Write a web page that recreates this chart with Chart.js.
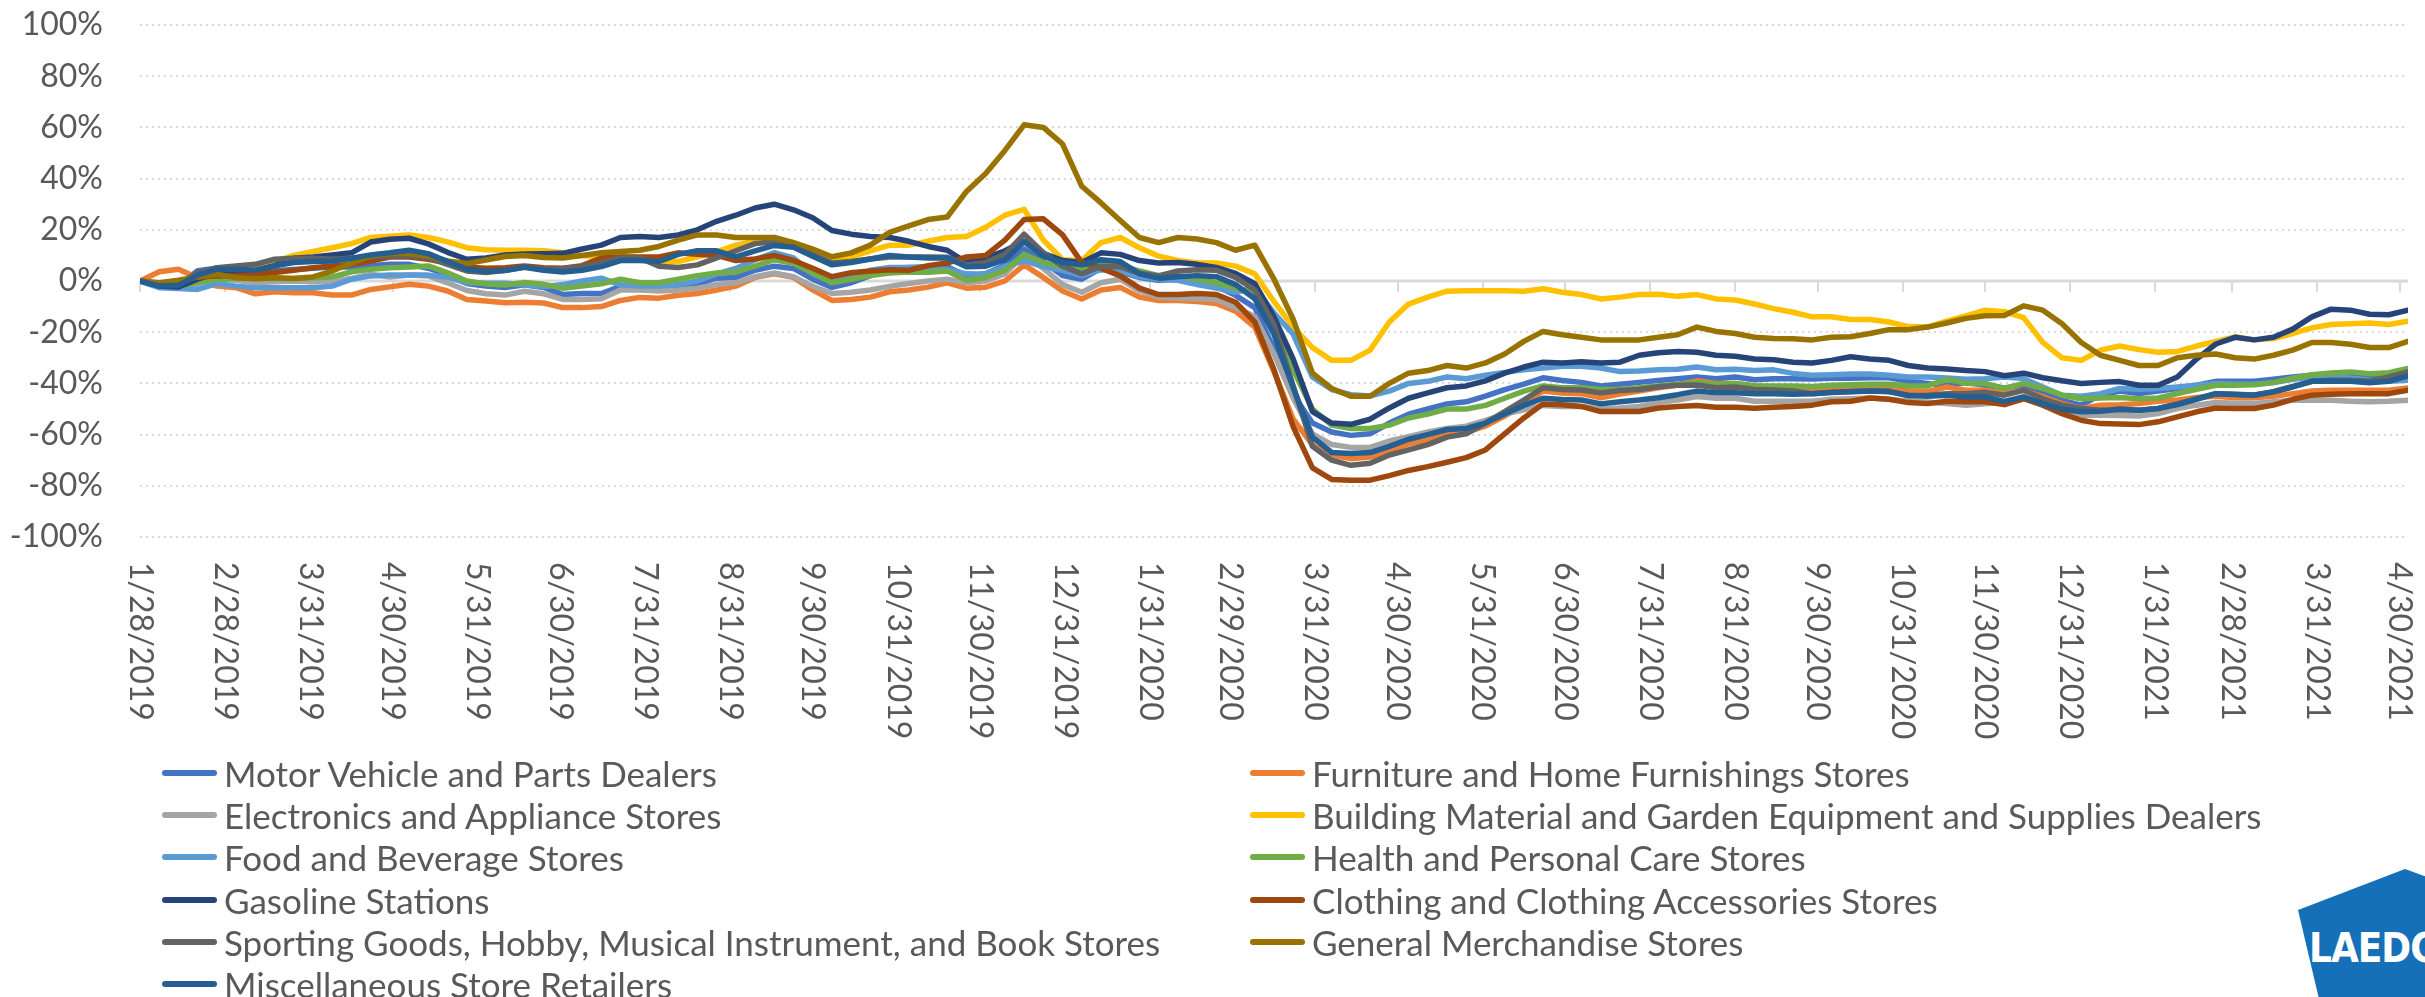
<!DOCTYPE html>
<html>
<head>
<meta charset="utf-8">
<script src="https://cdn.jsdelivr.net/npm/chart.js@4.4.1/dist/chart.umd.min.js"></script>
<style>
html, body { margin: 0; padding: 0; background: #fff; overflow: hidden; }
#wrap { position: relative; width: 2425px; height: 997px; overflow: hidden; }
#chart { position: absolute; left: 0; top: 0; }
.item { position: absolute; height: 42px; display: flex; align-items: center; font: 35px Lato, sans-serif; color: #595959; white-space: nowrap; }
.swatch { width: 55px; height: 6px; border-radius: 3px; margin-right: 7px; }
#logo { position: absolute; left: 2298px; top: 869px; width: 140px; height: 130px; background: #1570B8;
        clip-path: polygon(0px 41px, 107px 0px, 140px 12px, 140px 130px, 21px 130px); }
#logo span { position: absolute; left: 11px; top: 56px; font: bold 40px "Liberation Sans Narrow", "DejaVu Sans Condensed", sans-serif; color: #fff; letter-spacing: -1px; }
</style>
</head>
<body>
<div id="wrap">
  <canvas id="chart" width="2425" height="997"></canvas>
  <div id="legend"></div>
  <div id="logo"><span>LAEDC</span></div>
</div>
<script>
// weekly % change vs baseline, one value per week starting 1/28/2019
var startDate = '1/28/2019';

var motorVehicle = [0,-2,-2,4,5,4,3,4,4.5,5, 5.5,5.5,6,6.5,6.5,5,2.5,-1,-2,-2.5,
  -1.5,-2.5,-5.3,-4.9,-4.9,-2.1,-2.5,-2.8,-2.1,-1.1, 1.1,1.4,4.2,5.8,4.9,0.7,-2.5,-0.7,2.1,4.9,
  5.3,5.6,5.6,2.1,2.8,6.3,12.5,7.6,2.1,0.7, 4.9,3.5,1.4,0.3,0.7,0.5,-2.1,-5.6,-10.4,-26.4,
  -44.4,-55.5,-59,-60.3,-59.7,-55.5,-52,-50,-48,-47.2, -45,-42.4,-40.3,-37.8,-38.9,-39.6,-41,-40.3,-39.6,-38.9,
  -38.2,-37.5,-38.2,-37.5,-38.6,-38.2,-38.2,-38.3,-38,-38, -37.8,-37.8,-39.2,-40,-40.7,-39.7,-40.7,-41.8,-40.7,-43.3,
  -46.6,-48.5,-44.6,-43,-44,-43,-42,-40.7,-39.2,-39.2, -39.2,-38.4,-37.5,-36.8,-37,-36.8,-37.5,-37.5,-36.2];

var furniture = [0,3.6,4.6,1.3,-2,-2.6,-5,-4.2,-4.6,-4.6, -5.5,-5.5,-3.3,-2.3,-1.3,-2,-3.9,-7.2,-7.8,-8.5,
  -8.3,-8.6,-10.4,-10.4,-10,-7.6,-6.4,-6.7,-5.6,-4.9, -3.5,-2,1.4,2.8,1.4,-3.5,-7.6,-7.2,-6.3,-4.2,
  -3.5,-2.4,-0.7,-2.8,-2.4,0,6.3,1.4,-3.9,-7, -3.5,-2.5,-6.3,-7.6,-7.6,-8,-8.8,-11.8,-18,-35.4,
  -54,-64,-68,-69.4,-68.8,-66.4,-63.6,-62.2,-60,-59, -56.7,-52.8,-48,-43,-43.8,-44,-45.6,-44.2,-43,-41.7,
  -40.6,-39,-40,-40,-41,-41.3,-41.3,-42.7,-42.3,-42, -42,-42,-43,-43.2,-41.4,-42.7,-42.7,-44,-42.7,-45.3,
  -47.9,-49.8,-48.5,-48.3,-47.9,-47,-46.5,-45.5,-45,-45.6, -45.6,-45,-44,-43,-42.7,-42.7,-42.7,-42.7,-41.8];

var electronics = [0,-2,-2.3,-1.3,1,0.3,-0.7,-0.3,0,-0.3, 0,1,2.6,1.6,2.3,2,-0.7,-3.7,-5,-5.5,
  -4,-5,-7.2,-7.2,-6.9,-3.5,-3.5,-3.9,-3.5,-2.8, -1.4,-0.7,1.7,3.1,1.7,-2.1,-4.9,-4.4,-3.5,-2.1,
  -1,0,0.7,-0.7,0,2.8,10.4,4.9,-1.4,-4.4, -0.7,0.7,-3.9,-6.3,-6.7,-6.9,-7.2,-10.4,-13.9,-28.5,
  -45.8,-59.7,-63.9,-65,-65,-62.5,-60.8,-59,-57.6,-56.7, -54.4,-52,-50.3,-48.6,-49,-49,-50,-49.6,-49,-47.5,
  -46.5,-45.1,-45.8,-45.8,-47,-47,-47,-47,-46.2,-46, -45.7,-46.2,-47,-47.3,-47.9,-48.5,-48,-47.2,-45.3,-48.5,
  -51.1,-52.4,-52.4,-52.5,-52.7,-51.8,-49.8,-48.5,-47.5,-47.8, -47.8,-47.2,-46.6,-46.6,-46.6,-47,-47.2,-47,-46.6];

var buildingMaterial = [0,-2,-1,1,3,4,5.5,7.5,10,11.5, 13,14.6,17,17.5,18,17,15.3,13,12.2,12,
  12,11.8,11,10,9.4,10,9,7.6,7.6,9.4, 11.4,14,15.5,16,15,11,8.3,9.4,11.8,14,
  14,15.5,17,17.4,21,25.7,28,16,8.3,8, 15,17,13,9.7,8,7,7,5.8,2.8,-8,
  -18,-26,-31,-31,-27,-16,-9,-6.3,-4,-3.8, -3.8,-3.8,-4,-3,-4.4,-5.3,-7,-6.3,-5.3,-5.2,
  -6,-5.3,-7,-7.4,-9,-10.8,-12.2,-14,-14,-15, -15,-16,-17.8,-18,-15.7,-13.6,-11.4,-12,-14.3,-24,
  -30,-31,-27,-25.4,-26.8,-27.8,-27.5,-25.4,-23.6,-21.8, -23,-22.5,-20.5,-18.3,-17,-16.7,-16.4,-17,-15.7];

var foodBeverage = [0,-2.6,-2.9,-3.3,-1,-2,-2.6,-2.6,-2.6,-2.6, -2,0.7,2,2.3,2.3,2.3,1.5,-0.7,-0.9,-0.9,
  -1.5,-2.3,-1.4,0,1.1,-1.5,-2,-2,-1.4,0, 2.8,4.9,8.3,11.1,9,2.8,0.3,1.4,4.2,5.3,
  5.3,4.9,4.5,2.8,2.6,5.6,8,5.6,4.2,2.1, 4.4,3.9,1.7,0.7,0.3,-1.4,-2.8,-4.4,-2.8,-12.5,
  -20.8,-37.5,-42.4,-44.4,-44.9,-43,-40,-39.2,-37.5,-38.2, -36.8,-35.7,-34.7,-34,-33.3,-33.3,-34,-35.4,-35.2,-34.7,
  -34.5,-33.6,-34.7,-34.5,-35,-34.7,-36.1,-36.8,-36.6,-36.3, -36.3,-36.8,-37.5,-37.5,-37.9,-38.4,-38.2,-37.5,-38.1,-41.4,
  -44.6,-45,-44,-42,-42.3,-42,-41.4,-40.7,-40,-40.3, -40.3,-39.7,-38.4,-37.5,-37.5,-37.9,-38.8,-39.2,-38.8];

var healthCare = [0,-1.3,-2,-0.5,0.7,1,1,1,1,1.3, 1.6,3.6,4.6,5.2,5.5,5.9,3.2,0,-1.2,-1.6,
  -0.6,-1.3,-2.8,-2,-1.1,0.7,-0.7,-0.7,0.7,2.1, 3.1,3.5,5.8,8.3,6.9,3.1,-0.7,0.7,2.1,3.1,
  3.5,3.4,3.9,0.3,1.4,4.2,10.4,7.2,5.6,4.4, 7.2,6.3,3.9,2.1,2.1,0.7,-0.7,-2.8,-4.4,-18,
  -34.7,-50,-56.3,-57.6,-57.6,-56.3,-53.5,-52,-50,-50, -48.6,-45.8,-43,-41,-41.7,-41.7,-42.4,-42.4,-41.7,-41,
  -40.3,-39.6,-40.3,-40,-41,-41,-41,-41.2,-40.7,-40.5, -40.3,-40.3,-41,-41,-38.4,-40,-40,-42,-40,-42,
  -44.6,-46,-45.7,-45.5,-46,-45.7,-44,-42.3,-40.7,-40.7, -40.5,-39.7,-38,-36.6,-35.9,-35.5,-36.2,-35.8,-34.2];

var gasoline = [0,-2,-2.3,0.7,3.3,3.9,4,6,8.9,9.4, 10.2,11,15.2,16.3,16.7,14.5,11.2,8.5,9,10.2,
  10.5,10.6,10.8,12.5,14,17,17.4,17,18,20, 23.3,25.7,28.5,30,27.8,24.7,19.7,18.3,17.4,17,
  15.5,13.5,12,7.2,9,11.8,15.5,10.8,8,7.2, 11,10.4,8,7,7.2,6.5,5.3,3,-1,-14,
  -30.5,-51,-55.5,-56,-54,-49.6,-45.8,-43.7,-41.7,-41, -39,-36,-33.6,-31.7,-32,-31.5,-32,-31.7,-29,-28,
  -27.5,-27.8,-29,-29.4,-30.5,-30.8,-31.7,-32,-31,-29.6, -30.5,-31,-33,-34,-34.4,-35,-35.4,-37,-36,-37.8,
  -39,-40,-39.6,-39.3,-40.7,-40.7,-37.5,-30.5,-24.6,-22, -23,-22,-18.8,-14,-11,-11.4,-13,-13.2,-11.4];

var clothing = [0,-1,0,1.5,2,2,2.6,3.3,4.2,5.2, 5.9,6.5,7.8,9.4,9.4,8.5,7,5.5,5,5.2,
  5.9,5.2,5,6,9,9.4,9.4,9.4,11,10.4, 10,8,8.6,10,8,5,1.7,3.2,3.9,4.4,
  4.2,6,7,9.4,10,16,24,24.3,18,7.2, 5,2,-2.8,-5.3,-5.3,-4.9,-5.3,-8.3,-16,-34.7,
  -57,-73,-77.5,-77.8,-77.8,-76,-74,-72.5,-70.8,-69, -66,-59.7,-53.5,-48,-48.3,-49,-51,-51,-51,-49.6,
  -49,-48.6,-49.3,-49.3,-49.7,-49.3,-49,-48.5,-47.2,-47, -45.7,-46.2,-47.5,-47.9,-47,-47.2,-47.2,-48.3,-46,-48.5,
  -51.8,-54.4,-55.7,-55.9,-56.1,-55,-53.1,-51.1,-49.6,-49.8, -49.8,-48.5,-46.2,-44.6,-44.2,-44,-44,-44,-42.7];

var sportingGoods = [0,-1.3,-1.3,3.3,5.2,5.9,6.5,8.5,8.9,8.9, 8.5,8.9,9.4,9.8,9.8,9.1,6.5,3.9,3.3,4.2,
  5.5,4.6,4.9,5.6,7.2,9,9,5.8,5.3,6.3, 9,11.8,14.6,15.3,13.9,10.4,7,7.6,8.6,9.4,
  9.4,9.4,9.3,6.3,7.2,10.4,18.3,11,5.8,2.8, 5.8,5.6,3,2,3.9,4.4,4.2,1.4,-3.5,-17,
  -41,-64.6,-70,-72,-71.2,-68,-66,-63.9,-61,-59.7, -55.5,-51,-46.5,-41.7,-42.4,-42.6,-43.7,-42.8,-42.4,-41.3,
  -40.7,-40.6,-41.7,-41.4,-42.4,-42.6,-43,-44,-43.5,-43.2, -43,-43,-44.9,-44.6,-44,-44,-43.5,-44.6,-42.7,-46,
  -48.5,-49.8,-50.5,-50.3,-50.5,-49.8,-48,-46,-44,-44.2, -44.5,-43.2,-41.2,-39.2,-38.8,-38.8,-39.2,-37.5,-35.5];

var generalMerch = [0,-0.7,0.3,1.6,2.6,1.3,0.9,1.3,1,1.6, 3.9,7,9.8,10.7,10.7,9.8,7.8,6.8,8.2,9.6,
  10,9.2,9,10,11,11.5,12,13.5,16,18, 18,17,17,17,15,12.5,9.5,11,14,19,
  21.5,24,25,35,42,51,61,60,53.5,37, 30.5,23.6,17,15,17,16.4,15,12,14,0.7,
  -15,-36,-42,-45,-45,-40,-36,-35,-33,-34, -32,-28.5,-23.6,-19.7,-21,-22,-23,-23,-23,-22,
  -21,-18,-19.7,-20.5,-22,-22.5,-22.6,-23,-22,-21.8, -20.5,-19,-19,-18,-16.4,-14.6,-13.6,-13.5,-9.7,-11.4,
  -16.7,-24,-29,-31,-33,-33,-30,-29,-28.5,-30, -30.5,-29,-27,-24,-24,-24.7,-26,-26,-23.6];

var miscRetail = [0,-2,-1.7,2.3,4.6,4.6,4.2,5.9,7.2,7.6, 7.8,8.9,10.2,11,12,10.7,7.6,4.7,3.7,4.1,
  5.4,4.2,3.5,4.2,5.6,8,8,7.6,10.4,11.8, 11.8,9.4,11.8,13.9,13.2,9.7,6.3,7.2,8.6,10,
  9.4,9,9,5.6,5.8,8.3,15.3,9.7,7.2,6.3, 8.3,7.6,2.8,1.1,1.7,2.1,1.7,-1.4,-6.9,-20.8,
  -41.7,-61,-67,-67.4,-67,-64.6,-61.8,-60,-58,-57.6, -55.5,-52,-48.6,-45.8,-46.3,-46.5,-48,-47.2,-46.5,-45.6,
  -44.4,-43,-43.7,-43.7,-44,-44,-44.2,-44,-43.6,-43.3, -43,-43.3,-44.6,-45,-44.6,-45.3,-45.3,-47,-45.3,-47.9,
  -50.1,-51.1,-50.9,-50,-50.5,-49.8,-48.3,-46.2,-44,-44.3, -44.6,-43.3,-41.4,-39.2,-39.1,-39.2,-39.7,-39.2,-37.1];

var seriesNames = [
  'Motor Vehicle and Parts Dealers',
  'Furniture and Home Furnishings Stores',
  'Electronics and Appliance Stores',
  'Building Material and Garden Equipment and Supplies Dealers',
  'Food and Beverage Stores',
  'Health and Personal Care Stores',
  'Gasoline Stations',
  'Clothing and Clothing Accessories Stores',
  'Sporting Goods, Hobby, Musical Instrument, and Book Stores',
  'General Merchandise Stores',
  'Miscellaneous Store Retailers'
];
var seriesValues = [motorVehicle, furniture, electronics, buildingMaterial, foodBeverage, healthCare,
  gasoline, clothing, sportingGoods, generalMerch, miscRetail];
var colors = ['#4472C4','#ED7D31','#A5A5A5','#FFC000','#5B9BD5','#70AD47',
  '#264478','#9E480E','#636363','#997300','#255E91'];

var tickLabels = ['1/28/2019','2/28/2019','3/31/2019','4/30/2019','5/31/2019','6/30/2019','7/31/2019',
  '8/31/2019','9/30/2019','10/31/2019','11/30/2019','12/31/2019','1/31/2020','2/29/2020','3/31/2020',
  '4/30/2020','5/31/2020','6/30/2020','7/31/2020','8/31/2020','9/30/2020','10/31/2020','11/30/2020',
  '12/31/2020','1/31/2021','2/28/2021','3/31/2021','4/30/2021'];

function dayNumber(s) {
  var p = s.split('/');
  return Date.UTC(+p[2], +p[0] - 1, +p[1]) / 86400000;
}
var day0 = dayNumber(startDate);
var tickDays = tickLabels.map(function (s) { return dayNumber(s) - day0; });
var lastDay = (motorVehicle.length - 1) * 7;

var textColor = '#595959';
var fontName = 'Lato';

var datasets = seriesValues.map(function (vals, i) {
  return {
    label: seriesNames[i],
    data: vals.map(function (v, w) { return { x: w * 7, y: v }; }),
    borderColor: colors[i],
    backgroundColor: colors[i],
    borderWidth: 5.5,
    pointRadius: 0,
    tension: 0,
    fill: false,
    borderJoinStyle: 'round',
    borderCapStyle: 'round',
    order: seriesValues.length - 1 - i
  };
});

// zero line with month tick marks (axis crosses at 0)
var zeroAxis = {
  id: 'zeroAxis',
  beforeDatasetsDraw: function (chart) {
    var ctx = chart.ctx, xs = chart.scales.x, ys = chart.scales.y, a = chart.chartArea;
    var y0 = Math.round(ys.getPixelForValue(0));
    ctx.save();
    ctx.strokeStyle = '#D9D9D9';
    ctx.lineWidth = 3;
    ctx.beginPath();
    ctx.moveTo(a.left, y0);
    ctx.lineTo(a.right, y0);
    ctx.stroke();
    ctx.lineWidth = 2;
    tickDays.forEach(function (d) {
      var x = Math.round(xs.getPixelForValue(d));
      ctx.beginPath();
      ctx.moveTo(x, y0);
      ctx.lineTo(x, y0 + 11);
      ctx.stroke();
    });
    ctx.restore();
  }
};

// date labels, rotated clockwise, hanging below the plot
var dateLabels = {
  id: 'dateLabels',
  afterDraw: function (chart) {
    var ctx = chart.ctx, xs = chart.scales.x, a = chart.chartArea;
    ctx.save();
    ctx.fillStyle = textColor;
    ctx.font = '32px ' + fontName;
    ctx.textAlign = 'left';
    ctx.textBaseline = 'middle';
    tickLabels.forEach(function (lab, i) {
      ctx.save();
      ctx.translate(xs.getPixelForValue(tickDays[i]), a.bottom + 25);
      ctx.rotate(Math.PI / 2);
      ctx.fillText(lab, 0, 0);
      ctx.restore();
    });
    ctx.restore();
  }
};

var chart = new Chart(document.getElementById('chart').getContext('2d'), {
  type: 'line',
  data: { datasets: datasets },
  options: {
    responsive: false,
    animation: false,
    devicePixelRatio: 1,
    layout: { padding: { left: 10, right: 17, top: 25, bottom: 460 } },
    plugins: { legend: { display: false }, tooltip: { enabled: false } },
    scales: {
      x: { type: 'linear', display: false, min: 0, max: lastDay },
      y: {
        min: -100, max: 100,
        ticks: { stepSize: 20, color: textColor, padding: 37, font: { family: fontName, size: 32 },
                 callback: function (v) { return v + '%'; } },
        grid: { drawTicks: false, lineWidth: 2,
                color: function (c) { return c.tick && c.tick.value === 0 ? 'rgba(0,0,0,0)' : '#D9D9D9'; } },
        border: { display: false, dash: [2, 4] },
        afterFit: function (s) { s.width = 130; s.paddingTop = 0; s.paddingBottom = 0; }
      }
    }
  },
  plugins: [zeroAxis, dateLabels]
});

// two-column legend under the chart
var legend = document.getElementById('legend');
seriesNames.forEach(function (name, i) {
  var row = Math.floor(i / 2), col = i % 2;
  var el = document.createElement('div');
  el.className = 'item';
  el.style.left = (col === 0 ? 162 : 1250) + 'px';
  el.style.top = (752 + row * 42.2) + 'px';
  var sw = document.createElement('span');
  sw.className = 'swatch';
  sw.style.background = colors[i];
  el.appendChild(sw);
  el.appendChild(document.createTextNode(name));
  legend.appendChild(el);
});
</script>
</body>
</html>
